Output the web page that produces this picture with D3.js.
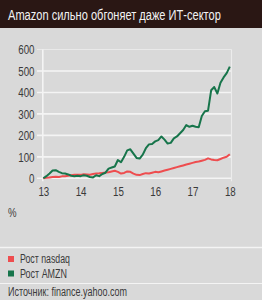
<!DOCTYPE html>
<html><head><meta charset="utf-8">
<script src="https://cdn.jsdelivr.net/npm/d3@7"></script>
<style>
html,body{margin:0;padding:0;background:#d9d9d9;}
svg text{font-family:"Liberation Sans","Arial",sans-serif;}
</style></head>
<body>
<svg id="c" width="262" height="300"></svg>
<script>
const title = "Amazon сильно обгоняет даже ИТ-сектор";
const yearTicks = [13, 14, 15, 16, 17, 18];
const yTicks = [0, 100, 200, 300, 400, 500, 600];
// monthly, Jan 2013 .. Jan 2018
const nasdaq = [0,2,4,6,7,6,9,10,12,14,16,17,
  16,19,18,17,20,22,23,25,27,28,32,35,
  30,22,25,32,30,22,16,15,20,24,22,26,
  30,28,32,36,40,44,48,52,56,60,64,68,
  72,76,78,82,86,93,88,85,84,90,96,100,112];
const amzn = [0,10,22,36,38,30,24,22,18,12,10,12,
  10,14,12,6,4,14,10,20,26,45,50,55,
  85,75,100,130,135,115,95,92,110,140,158,160,
  172,178,195,180,162,165,186,195,210,225,248,240,
  245,240,238,290,312,315,410,425,395,445,470,490,520];
const seriesNames = ["Рост nasdaq", "Рост AMZN"];
const colors = ["#ee4d4f", "#17754b"];
const unit = "%";
const source = "Источник: finance.yahoo.com";

const condense = (sel, f) => sel.each(function(){
  const len = this.getComputedTextLength();
  d3.select(this).attr("textLength", len*f).attr("lengthAdjust","spacingAndGlyphs");
});

const svg = d3.select("#c");
svg.append("rect").attr("width",262).attr("height",300).attr("fill","#d9d9d9");
svg.append("rect").attr("width",262).attr("height",28).attr("fill","#2a1714");
const tg = svg.append("g");
const tt = tg.append("text").attr("x",0).attr("y",0).attr("fill","#f2f2f2")
  .attr("font-size",15).text(title);
const tlen = tt.node().getComputedTextLength();
tg.attr("transform",`translate(8,19.5) scale(${213/tlen},1)`);

const x = d3.scaleLinear().domain([13,18]).range([43.3,229.8]);
const y = d3.scaleLinear().domain([0,600]).range([178.3,49.5]);
const xm = i => 13 + i/12;

// grid
const g = svg.append("g");
g.selectAll("line.grid").data(yTicks).join("line")
  .attr("x1",37).attr("x2",231.5)
  .attr("y1",d=>y(d)).attr("y2",d=>y(d))
  .attr("stroke","#f4f4f4").attr("stroke-width",d=>d===600?1:1.6)
  .attr("opacity",d=>d===600?0.6:1);
g.append("line").attr("x1",x(13)-0.5).attr("x2",x(13)-0.5).attr("y1",y(600)).attr("y2",y(0)+3)
  .attr("stroke","#f4f4f4").attr("stroke-width",1.6);
g.append("line").attr("x1",231.5).attr("x2",231.5).attr("y1",y(600)).attr("y2",y(0)+3)
  .attr("stroke","#ececec").attr("stroke-width",1.2);

// y axis labels
const yAxis = d3.axisLeft(y).tickValues(yTicks).tickSize(0).tickPadding(0);
const ya = svg.append("g").attr("transform","translate(34.5,0)").call(yAxis);
ya.select(".domain").remove();
ya.selectAll("text").attr("font-size",12.5).attr("fill","#3a3a3a")
  .attr("font-family",null).attr("dy","0.35em").call(condense,0.78);

// x axis labels
const xAxis = d3.axisBottom(x).tickValues(yearTicks).tickSize(0).tickPadding(0).tickFormat(d3.format("d"));
const xa = svg.append("g").attr("transform","translate(0,185.5)").call(xAxis);
xa.select(".domain").remove();
xa.selectAll("text").attr("font-size",12.5).attr("fill","#3a3a3a").attr("font-family",null).attr("dy","0.8em").call(condense,0.78);

// lines
const line = d3.line().x((d,i)=>x(xm(i))).y(d=>y(d)).curve(d3.curveLinear);
[nasdaq, amzn].forEach((s,k)=>{
  svg.append("path").datum(s).attr("d",line).attr("fill","none")
    .attr("stroke",colors[k]).attr("stroke-width",2).attr("stroke-linejoin","round");
});

svg.append("text").attr("x",8).attr("y",217).attr("font-size",12).attr("fill","#3a3a3a").text(unit).call(condense,0.8);

// legend
svg.append("line").attr("x1",0).attr("x2",262).attr("y1",247.5).attr("y2",247.5).attr("stroke","#f4f4f4").attr("stroke-width",1.5);
const lg = svg.append("g");
const legW = [50, 47];
seriesNames.forEach((n,k)=>{
  lg.append("rect").attr("x",8).attr("y",256+k*14.5).attr("width",6).attr("height",6).attr("fill",colors[k]);
  lg.append("text").attr("x",20).attr("y",263+k*14.5).attr("font-size",12.5).attr("fill","#3a3a3a").text(n)
    .attr("textLength",legW[k]).attr("lengthAdjust","spacingAndGlyphs");
});
svg.append("line").attr("x1",0).attr("x2",262).attr("y1",283.5).attr("y2",283.5).attr("stroke","#f4f4f4").attr("stroke-width",1.2);
svg.append("text").attr("x",8).attr("y",296).attr("font-size",12.5).attr("fill","#3a3a3a").text(source)
  .attr("textLength",119).attr("lengthAdjust","spacingAndGlyphs");
</script>
</body></html>
